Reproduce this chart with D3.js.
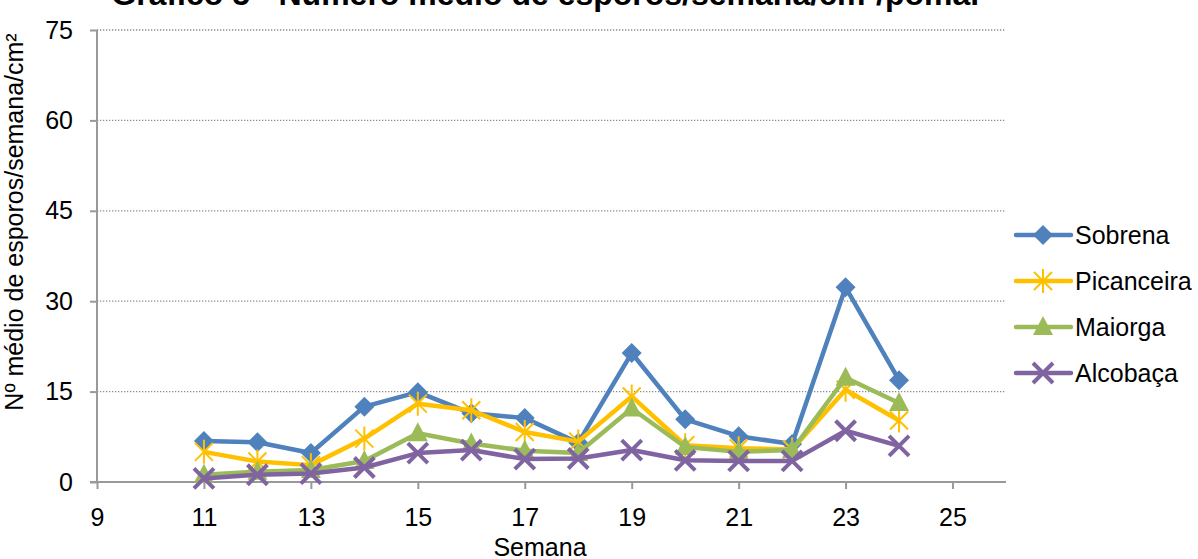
<!DOCTYPE html>
<meta charset="utf-8">
<style>
body { margin: 0; background: #fff; }
text { font-family: "Liberation Sans", Arial, sans-serif; fill: #000; }
.grid line { stroke: #8a8a8a; stroke-width: 1.3; stroke-dasharray: 1.3 1.7; }
.axis path, .axis line { stroke: #999; stroke-width: 2; }
.series { fill: none; stroke-width: 4.5; stroke-linejoin: round; }
</style>
<svg width="1198" height="559"></svg>
<script src="https://cdn.jsdelivr.net/npm/d3@7"></script>
<script>
var width = 1198, height = 559;

var weeks = [11, 12, 13, 14, 15, 16, 17, 18, 19, 20, 21, 22, 23, 24];
var seriesNames = ["Sobrena", "Picanceira", "Maiorga", "Alcobaça"];
var sobrena    = [6.8, 6.6, 4.8, 12.5, 14.9, 11.4, 10.6, 6.5, 21.4, 10.4, 7.6, 6.3, 32.3, 16.9];
var picanceira = [5.0, 3.4, 2.8, 7.2, 13.0, 11.9, 8.3, 6.7, 14.2, 6.1, 5.6, 5.4, 15.3, 10.2];
var maiorga    = [1.2, 1.7, 2.0, 3.5, 8.1, 6.4, 5.2, 4.8, 12.2, 5.8, 5.0, 5.3, 17.3, 13.1];
var alcobaca   = [0.6, 1.2, 1.4, 2.4, 4.8, 5.3, 3.8, 3.9, 5.3, 3.6, 3.5, 3.5, 8.5, 6.0];
var colors = ["#4F81BD", "#FFC000", "#9BBB59", "#8064A2"];
var markers = ["diamond", "star", "triangle", "cross"];
var xTicks = [9, 11, 13, 15, 17, 19, 21, 23, 25];
var yTicks = [0, 15, 30, 45, 60, 75];

var values = [sobrena, picanceira, maiorga, alcobaca];

var svg = d3.select("svg");
var plotL = 97, plotR = 1006, plotT = 30, plotB = 482;

var x = d3.scaleLinear().domain([9, 26]).range([plotL, plotR]);
var y = d3.scaleLinear().domain([0, 75]).range([plotB, plotT]);

// gridlines
svg.append("g").attr("class", "grid")
  .selectAll("line").data(yTicks.filter(function(d) { return d > 0; }))
  .enter().append("line")
  .attr("x1", plotL).attr("x2", plotR)
  .attr("y1", function(d) { return y(d); })
  .attr("y2", function(d) { return y(d); });

// axes
svg.append("g").attr("class", "axis")
  .attr("transform", "translate(0," + plotB + ")")
  .call(d3.axisBottom(x).tickValues(xTicks).tickSize(7).tickPadding(19).tickSizeOuter(0))
  .call(function(g) {
    g.selectAll("text").style("font-size", "25px");
    g.select(".domain").attr("d", "M" + (plotL - 7) + ",0H" + plotR);
  });

svg.append("g").attr("class", "axis")
  .attr("transform", "translate(" + plotL + ",0)")
  .call(d3.axisLeft(y).tickValues(yTicks).tickSize(7).tickPadding(17).tickSizeOuter(0))
  .call(function(g) {
    g.selectAll("text").style("font-size", "25px");
    g.select(".domain").attr("d", "M0," + plotT + "V" + plotB);
  });

// title (clipped at the top, as in the original)
svg.append("text")
  .attr("x", 547).attr("y", 5)
  .attr("text-anchor", "middle")
  .style("font-size", "32px").style("font-weight", "bold")
  .text("Gráfico 5 - Número médio de esporos/semana/cm²/pomar");

svg.append("text")
  .attr("x", 540).attr("y", 556)
  .attr("text-anchor", "middle")
  .style("font-size", "25px")
  .text("Semana");

svg.append("text")
  .attr("transform", "translate(23,222) rotate(-90)")
  .attr("text-anchor", "middle")
  .style("font-size", "25px")
  .text("Nº  médio de esporos/semana/cm²");

function drawMarker(g, type, color) {
  if (type === "diamond") {
    g.append("path").attr("d", "M0,-10L10,0L0,10L-10,0Z").attr("fill", color);
  } else if (type === "triangle") {
    g.append("path").attr("d", "M0,-11L10,8L-10,8Z").attr("fill", color);
  } else if (type === "star") {
    g.append("path")
      .attr("d", "M-9,-9L9,9M-9,9L9,-9M0,-12V12")
      .attr("stroke", color).attr("stroke-width", 2).attr("fill", "none");
  } else {
    g.append("path")
      .attr("d", "M-10,-10L10,10M-10,10L10,-10")
      .attr("stroke", color).attr("stroke-width", 4).attr("fill", "none");
  }
}

var line = d3.line()
  .x(function(d) { return x(d[0]); })
  .y(function(d) { return y(d[1]); });

values.forEach(function(vals, i) {
  var pts = weeks.map(function(w, j) { return [w, vals[j]]; });
  svg.append("path").attr("class", "series")
    .attr("d", line(pts)).attr("stroke", colors[i]);
  pts.forEach(function(p) {
    var g = svg.append("g").attr("transform", "translate(" + x(p[0]) + "," + y(p[1]) + ")");
    drawMarker(g, markers[i], colors[i]);
  });
});

// legend
var legend = svg.append("g");
seriesNames.forEach(function(name, i) {
  var ly = 235 + i * 46;
  legend.append("line")
    .attr("x1", 1016).attr("x2", 1071).attr("y1", ly).attr("y2", ly)
    .attr("stroke", colors[i]).attr("stroke-width", 4.5).attr("stroke-linecap", "round");
  var g = legend.append("g").attr("transform", "translate(1043," + ly + ")");
  drawMarker(g, markers[i], colors[i]);
  legend.append("text")
    .attr("x", 1075).attr("y", ly + 9)
    .style("font-size", "25px")
    .text(name);
});
</script>
